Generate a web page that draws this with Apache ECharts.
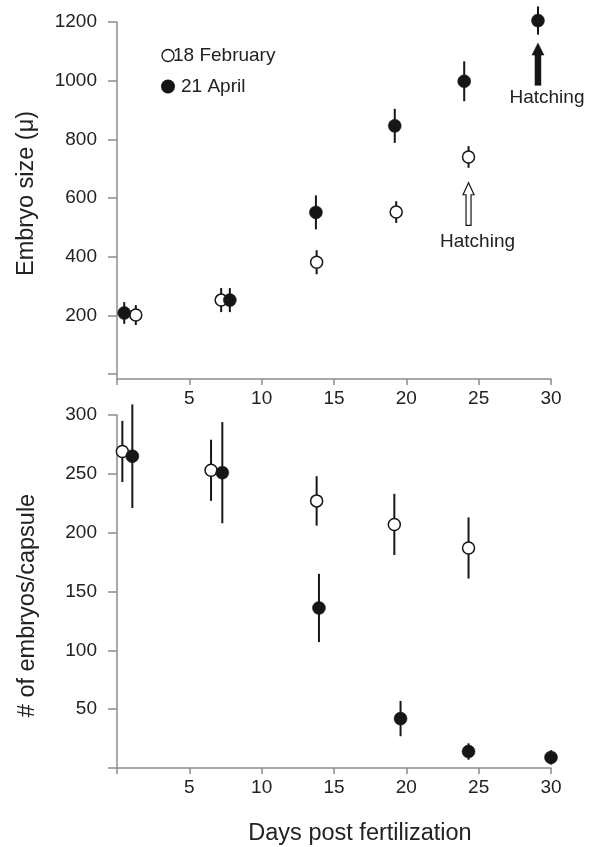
<!DOCTYPE html>
<html>
<head>
<meta charset="utf-8">
<script src="https://cdn.jsdelivr.net/npm/echarts@6/dist/echarts.min.js"></script>
<style>
html,body{margin:0;padding:0;background:#fff;}
#chart{width:597px;height:847px;}
</style>
</head>
<body>
<div id="chart"></div>
<script>
// ---------- data ----------
const seriesNames = ['18 February', '21 April'];

// Top panel: embryo size (μ)
const sizeFebDays = [1.3, 7.2, 13.8, 19.3, 24.3];
const sizeFebMean = [201, 252, 381, 552, 740];
const sizeFebErr  = [34, 41, 41, 37, 37];

const sizeAprDays = [0.5, 7.8, 13.75, 19.2, 24.0, 29.1];
const sizeAprMean = [208, 252, 551, 846, 998, 1205];
const sizeAprErr  = [37, 41, 58, 58, 68, 48];

// Bottom panel: # of embryos / capsule
const countFebDays = [0.37, 6.5, 13.8, 19.17, 24.3];
const countFebMean = [269, 253, 227, 207, 187];
const countFebErr  = [26, 26, 21, 26, 26];

const countAprDays = [1.06, 7.28, 13.96, 19.6, 24.3, 30.0];
const countAprMean = [265, 251, 136, 42, 14, 9];
const countAprErr  = [44, 43, 29, 15, 7, 6];

// Hatching arrows (day, arrow tip value, arrow tail value)
const hatchLabel = 'Hatching';
const hatchFebArrow = [[24.3, 652, 507]];
const hatchAprArrow = [[29.1, 1128, 984]];

// Axis ticks
const xTicks = [0, 5, 10, 15, 20, 25, 30];
const sizeTicks = [0, 200, 400, 600, 800, 1000, 1200];
const sizeTickLabels = [200, 400, 600, 800, 1000, 1200];
const countTicks = [0, 50, 100, 150, 200, 250, 300];
const countTickLabels = [50, 100, 150, 200, 250, 300];

// ---------- helpers ----------
const zip3 = (a, b, c) => a.map((v, i) => [v, b[i], c[i]]);
const FONT = "'Liberation Sans', Arial, Helvetica, sans-serif";
const TXT = '#222';
const AX = '#8c8c8c';
const INK = '#161616';

function errRender(params, api) {
  const x = api.value(0), y = api.value(1), e = api.value(2);
  const p1 = api.coord([x, y + e]);
  const p2 = api.coord([x, y - e]);
  return {
    type: 'line',
    shape: {x1: p1[0], y1: p1[1], x2: p2[0], y2: p2[1]},
    style: {stroke: INK, lineWidth: 2}
  };
}

function arrowRender(filled) {
  return function (params, api) {
    const x = api.value(0);
    const tip = api.coord([x, api.value(1)]);
    const tail = api.coord([x, api.value(2)]);
    const hw = filled ? 6 : 5.5, hh = 12, sw = filled ? 3 : 2.5;
    const cx = tip[0], ty = tip[1], by = tail[1];
    const pts = [
      [cx, ty], [cx + hw, ty + hh], [cx + sw, ty + hh], [cx + sw, by],
      [cx - sw, by], [cx - sw, ty + hh], [cx - hw, ty + hh]
    ];
    return {
      type: 'group',
      children: [
        {type: 'polygon', shape: {points: pts},
         style: {fill: filled ? INK : '#fff', stroke: INK, lineWidth: filled ? 0.5 : 1.2}},
        {type: 'text', x: cx + 9, y: by + (filled ? 3 : 7),
         style: {text: hatchLabel, fill: TXT, font: '19px ' + FONT, align: 'center', verticalAlign: 'top'}}
      ]
    };
  };
}

const gridLeft = 117, gridWidth = 434;

const xAxisBase = (gridIndex) => ({
  type: 'value', gridIndex, min: 0, max: 30, interval: 5,
  axisLine: {show: true, onZero: false, lineStyle: {color: AX, width: 1.5}},
  axisTick: {show: true, length: 6, lineStyle: {color: AX, width: 1.5}, customValues: xTicks},
  axisLabel: {color: TXT, fontSize: 19, fontFamily: FONT, margin: 10,
              formatter: v => (v === 0 ? '' : String(v))},
  splitLine: {show: false}
});

const option = {
  animation: false,
  backgroundColor: '#fff',
  textStyle: {fontFamily: FONT},
  legend: {
    data: [
      {name: seriesNames[0], icon: 'circle',
       itemStyle: {color: '#fff', borderColor: INK, borderWidth: 1.3},
       textStyle: {color: TXT, fontSize: 19, fontFamily: FONT, padding: [0, 0, 0, -6]}},
      {name: seriesNames[1], icon: 'circle',
       itemStyle: {color: INK, borderColor: INK},
       textStyle: {color: TXT, fontSize: 19, fontFamily: FONT, padding: [0, 0, 0, 2]}}
    ],
    orient: 'vertical', left: 156, top: 41, padding: 5,
    itemWidth: 12, itemHeight: 12, itemGap: 12,
    textStyle: {color: TXT, fontSize: 19, fontFamily: FONT},
    selectedMode: false
  },
  grid: [
    {left: gridLeft, width: gridWidth, top: 22, height: 357},
    {left: gridLeft, width: gridWidth, top: 415, height: 353}
  ],
  xAxis: [
    xAxisBase(0),
    Object.assign(xAxisBase(1), {
      name: 'Days post fertilization', nameLocation: 'middle', nameGap: 54,
      nameTextStyle: {color: TXT, fontSize: 23.5, fontFamily: FONT, padding: [0, 0, 0, 52]}
    })
  ],
  yAxis: [
    {
      type: 'value', gridIndex: 0, min: -17, max: 1200,
      name: 'Embryo size (μ)', nameLocation: 'middle', nameGap: 78,
      nameTextStyle: {color: TXT, fontSize: 23.5, fontFamily: FONT, padding: [0, 0, 0, 14]},
      axisLine: {show: true, onZero: false, lineStyle: {color: AX, width: 1.5}},
      axisTick: {show: true, length: 9, lineStyle: {color: AX, width: 1.5}, customValues: sizeTicks},
      axisLabel: {color: TXT, fontSize: 19, fontFamily: FONT, margin: 20, customValues: sizeTickLabels,
                  formatter: v => String(v)},
      splitLine: {show: false}
    },
    {
      type: 'value', gridIndex: 1, min: 0, max: 300, interval: 50,
      name: '# of embryos/capsule', nameLocation: 'middle', nameGap: 77,
      nameTextStyle: {color: TXT, fontSize: 23.5, fontFamily: FONT, padding: [0, 28, 0, 0]},
      axisLine: {show: true, onZero: false, lineStyle: {color: AX, width: 1.5}},
      axisTick: {show: true, length: 9, lineStyle: {color: AX, width: 1.5}, customValues: countTicks},
      axisLabel: {color: TXT, fontSize: 19, fontFamily: FONT, margin: 20, customValues: countTickLabels,
                  formatter: v => String(v)},
      splitLine: {show: false}
    }
  ],
  series: [
    // error bars
    {type: 'custom', xAxisIndex: 0, yAxisIndex: 0, renderItem: errRender, z: 2, clip: false,
     data: zip3(sizeFebDays, sizeFebMean, sizeFebErr), silent: true},
    {type: 'custom', xAxisIndex: 0, yAxisIndex: 0, renderItem: errRender, z: 2, clip: false,
     data: zip3(sizeAprDays, sizeAprMean, sizeAprErr), silent: true},
    {type: 'custom', xAxisIndex: 1, yAxisIndex: 1, renderItem: errRender, z: 2, clip: false,
     data: zip3(countFebDays, countFebMean, countFebErr), silent: true},
    {type: 'custom', xAxisIndex: 1, yAxisIndex: 1, renderItem: errRender, z: 2, clip: false,
     data: zip3(countAprDays, countAprMean, countAprErr), silent: true},
    // markers
    {name: seriesNames[0], type: 'scatter', xAxisIndex: 0, yAxisIndex: 0, z: 5, clip: false,
     symbol: 'circle', symbolSize: 12,
     itemStyle: {color: '#fff', borderColor: INK, borderWidth: 1.5, opacity: 1},
     data: sizeFebDays.map((d, i) => [d, sizeFebMean[i]])},
    {name: seriesNames[1], type: 'scatter', xAxisIndex: 0, yAxisIndex: 0, z: 5, clip: false,
     symbol: 'circle', symbolSize: 13,
     itemStyle: {color: INK, borderColor: INK, borderWidth: 0.5, opacity: 1},
     data: sizeAprDays.map((d, i) => [d, sizeAprMean[i]])},
    {name: seriesNames[0], type: 'scatter', xAxisIndex: 1, yAxisIndex: 1, z: 5, clip: false,
     symbol: 'circle', symbolSize: 12,
     itemStyle: {color: '#fff', borderColor: INK, borderWidth: 1.5, opacity: 1},
     data: countFebDays.map((d, i) => [d, countFebMean[i]])},
    {name: seriesNames[1], type: 'scatter', xAxisIndex: 1, yAxisIndex: 1, z: 5, clip: false,
     symbol: 'circle', symbolSize: 13,
     itemStyle: {color: INK, borderColor: INK, borderWidth: 0.5, opacity: 1},
     data: countAprDays.map((d, i) => [d, countAprMean[i]])},
    // hatching arrows
    {type: 'custom', xAxisIndex: 0, yAxisIndex: 0, renderItem: arrowRender(false), z: 3,
     data: hatchFebArrow, silent: true, clip: false},
    {type: 'custom', xAxisIndex: 0, yAxisIndex: 0, renderItem: arrowRender(true), z: 3,
     data: hatchAprArrow, silent: true, clip: false}
  ]
};

const chart = echarts.init(document.getElementById('chart'), null, {renderer: 'canvas'});
chart.setOption(option);
</script>
</body>
</html>
